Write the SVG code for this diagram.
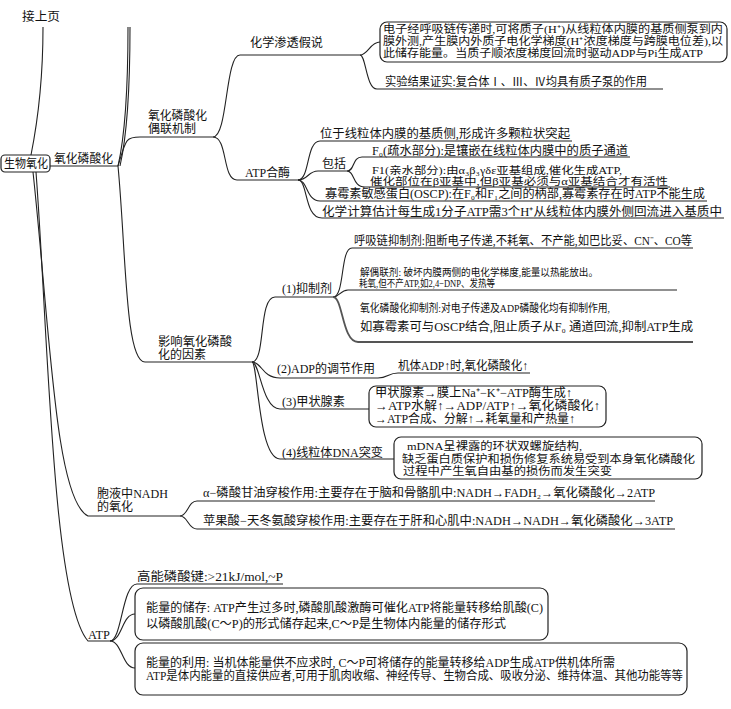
<svg xmlns="http://www.w3.org/2000/svg" width="731" height="709" viewBox="0 0 731 709">
<style>
.t{font-family:"Liberation Serif","Noto Sans CJK SC",serif;font-size:12px;fill:#111}
.s{font-size:10.5px}
.m{font-size:11px}
.c{fill:none;stroke:#222;stroke-width:1.1}
.g{fill:none;stroke:#555;stroke-width:1.8}
.b{fill:#fff;stroke:#222;stroke-width:1.2}
</style>
<rect width="731" height="709" fill="#fff"/>
<g id="connectors">
<path class="c" d="M43,27 C43,80 38,120 31,155"/>
<path class="c" d="M128,27 C128,90 124,140 118,166"/>
<path class="c" d="M130,27 C130,90 126,140 120,166"/>
<path class="c" d="M50,166 L118,166"/>
<path class="c" d="M33,172 C50,330 55,500 88,516 L180,516"/>
<path class="c" d="M36,172 C48,330 52,600 88,641 L110,641"/>
<path class="c" d="M118,166 C126,140 125,137 140,137 L213,137"/>
<path class="c" d="M118,166 C126,250 125,362 145,362 L252,362"/>
<path class="c" d="M213,137 C228,137 225,55 240,55 L360,55"/>
<path class="c" d="M213,137 C228,137 222,180 237,180 L298,180"/>
<path class="c" d="M360,55 C368,55 370,42 380,42"/>
<path class="c" d="M360,55 C366,55 366,89 377,89 L663,89"/>
<path class="c" d="M298,180 C310,180 306,141 320,141 L572,141"/>
<path class="c" d="M298,180 C308,180 308,171 318,171 L347,171"/>
<path class="c" d="M298,180 C308,180 306,201 320,201 L707,201"/>
<path class="c" d="M298,180 C308,180 304,218 322,218 L724,218"/>
<path class="c" d="M347,171 C355,171 352,157 362,157 L630,157"/>
<path class="c" d="M347,171 C355,171 352,187 365,187 L670,187"/>
<path class="c" d="M252,362 C266,362 258,297 275,297 L333,297"/>
<path class="c" d="M252,362 C262,362 262,378 280,378 L378,378 C388,378 388,373 398,373 L530,373"/>
<path class="c" d="M252,362 C260,362 262,409 280,409 L369,409"/>
<path class="c" d="M252,362 C258,362 258,459 280,459 L394,459"/>
<path class="c" d="M333,297 C345,297 340,248 352,248 L693,248"/>
<path class="c" d="M333,297 C340,297 340,290 348,290 L677,290"/>
<path class="g" d="M333,297 C343,297 342,342 358,342 L693,342"/>
<path class="c" d="M180,516 C188,516 188,501 197,501 L655,501"/>
<path class="c" d="M180,516 C188,516 188,529 197,529 L675,529"/>
<path class="c" d="M110,641 C122,641 122,584 137,584 L283,584"/>
<path class="c" d="M110,641 C122,641 122,614 135,614"/>
<path class="c" d="M110,641 C122,641 122,668 135,668"/>
</g>
<g id="prev"><text class="t" x="22" y="21" font-size="13" textLength="38" lengthAdjust="spacingAndGlyphs">接上页</text></g>
<g id="root"><rect class="b" x="1" y="155" width="49" height="17" rx="4"/><text class="t" x="4" y="168" textLength="44" lengthAdjust="spacingAndGlyphs">生物氧化</text></g>
<g id="n-oxphos"><text class="t" x="54" y="163" textLength="59" lengthAdjust="spacingAndGlyphs">氧化磷酸化</text></g>
<g id="n-coupling"><text class="t" x="148" y="120" textLength="59" lengthAdjust="spacingAndGlyphs">氧化磷酸化</text><text class="t" x="148" y="133" textLength="48" lengthAdjust="spacingAndGlyphs">偶联机制</text></g>
<g id="n-chemi"><text class="t" x="250" y="47" textLength="73" lengthAdjust="spacingAndGlyphs">化学渗透假说</text></g>
<g id="n-chemi-box"><rect class="b" x="380" y="22" width="347" height="40" rx="7"/>
<text class="t m" x="383" y="33" textLength="340" lengthAdjust="spacingAndGlyphs">电子经呼吸链传递时,可将质子(H⁺)从线粒体内膜的基质侧泵到内</text>
<text class="t m" x="383" y="45" textLength="340" lengthAdjust="spacingAndGlyphs">膜外测,产生膜内外质子电化学梯度(H⁺浓度梯度与跨膜电位差),以</text>
<text class="t m" x="383" y="57" textLength="320" lengthAdjust="spacingAndGlyphs">此储存能量。当质子顺浓度梯度回流时驱动ADP与Pi生成ATP</text></g>
<g id="n-exp"><text class="t" x="385" y="86" textLength="262" lengthAdjust="spacingAndGlyphs">实验结果证实:复合体Ⅰ、Ⅲ、Ⅳ均具有质子泵的作用</text></g>
<g id="n-atpase"><text class="t" x="245" y="177" textLength="45" lengthAdjust="spacingAndGlyphs">ATP合酶</text></g>
<g id="n-loc"><text class="t" x="320" y="138" textLength="250" lengthAdjust="spacingAndGlyphs">位于线粒体内膜的基质侧,形成许多颗粒状突起</text></g>
<g id="n-incl"><text class="t" x="322" y="168" textLength="24" lengthAdjust="spacingAndGlyphs">包括</text></g>
<g id="n-f0"><text class="t" x="372" y="155" textLength="256" lengthAdjust="spacingAndGlyphs">F₀(疏水部分):是镶嵌在线粒体内膜中的质子通道</text></g>
<g id="n-f1"><text class="t s" x="372" y="173.5" textLength="250" lengthAdjust="spacingAndGlyphs">F1(亲水部分):由α₃β₃γδε亚基组成,催化生成ATP,</text>
<text class="t s" x="370" y="185" textLength="298" lengthAdjust="spacingAndGlyphs">催化部位在β亚基中,但β亚基必须与α亚基结合才有活性</text></g>
<g id="n-oscp"><text class="t" x="325" y="198" textLength="380" lengthAdjust="spacingAndGlyphs">寡霉素敏感蛋白(OSCP):在F₀和F₁之间的柄部,寡霉素存在时ATP不能生成</text></g>
<g id="n-calc"><text class="t" x="322" y="216" textLength="400" lengthAdjust="spacingAndGlyphs">化学计算估计每生成1分子ATP需3个H⁺从线粒体内膜外侧回流进入基质中</text></g>
<g id="n-factors"><text class="t" x="158" y="346" textLength="74" lengthAdjust="spacingAndGlyphs">影响氧化磷酸</text><text class="t" x="158" y="359" textLength="48" lengthAdjust="spacingAndGlyphs">化的因素</text></g>
<g id="n-inhib"><text class="t" x="282" y="293" textLength="50" lengthAdjust="spacingAndGlyphs">(1)抑制剂</text></g>
<g id="n-resp"><text class="t" x="354" y="245" textLength="338" lengthAdjust="spacingAndGlyphs">呼吸链抑制剂:阻断电子传递,不耗氧、不产能,如巴比妥、CN⁻、CO等</text></g>
<g id="n-uncoup"><text class="t s" x="360" y="275.5" textLength="238" lengthAdjust="spacingAndGlyphs">解偶联剂: 破坏内膜两侧的电化学梯度,能量以热能放出。</text>
<text class="t s" x="359" y="287" textLength="136" lengthAdjust="spacingAndGlyphs">耗氧,但不产ATP,如2,4−DNP、发热等</text></g>
<g id="n-oxinh"><text class="t m" x="360" y="312" textLength="250" lengthAdjust="spacingAndGlyphs">氧化磷酸化抑制剂:对电子传递及ADP磷酸化均有抑制作用,</text>
<text class="t" x="360" y="331" textLength="333" lengthAdjust="spacingAndGlyphs">如寡霉素可与OSCP结合,阻止质子从F₀ 通道回流,抑制ATP生成</text></g>
<g id="n-adp"><text class="t" x="277" y="373" textLength="98" lengthAdjust="spacingAndGlyphs">(2)ADP的调节作用</text></g>
<g id="n-adp2"><text class="t" x="398" y="370" textLength="130" lengthAdjust="spacingAndGlyphs">机体ADP↑时,氧化磷酸化↑</text></g>
<g id="n-thyro"><text class="t" x="282" y="406" textLength="63" lengthAdjust="spacingAndGlyphs">(3)甲状腺素</text></g>
<g id="n-thyro-box"><rect class="b" x="369" y="386" width="237" height="41" rx="7"/>
<text class="t" x="375" y="397" textLength="197" lengthAdjust="spacingAndGlyphs">甲状腺素→膜上Na⁺−K⁺−ATP酶生成↑</text>
<text class="t" x="375" y="410" textLength="225" lengthAdjust="spacingAndGlyphs">→ATP水解↑→ADP/ATP↑→氧化磷酸化↑</text>
<text class="t" x="375" y="423" textLength="200" lengthAdjust="spacingAndGlyphs">→ATP合成、分解↑→耗氧量和产热量↑</text></g>
<g id="n-mdna"><text class="t" x="282" y="457" textLength="101" lengthAdjust="spacingAndGlyphs">(4)线粒体DNA突变</text></g>
<g id="n-mdna-box"><rect class="b" x="394" y="437" width="308" height="42" rx="7"/>
<text class="t m" x="407" y="450" textLength="175" lengthAdjust="spacingAndGlyphs">mDNA呈裸露的环状双螺旋结构,</text>
<text class="t m" x="402" y="463" textLength="293" lengthAdjust="spacingAndGlyphs">缺乏蛋白质保护和损伤修复系统易受到本身氧化磷酸化</text>
<text class="t m" x="403" y="475" textLength="209" lengthAdjust="spacingAndGlyphs">过程中产生氧自由基的损伤而发生突变</text></g>
<g id="n-nadh"><text class="t" x="97" y="498" textLength="71" lengthAdjust="spacingAndGlyphs">胞液中NADH</text><text class="t" x="97" y="511" textLength="36" lengthAdjust="spacingAndGlyphs">的氧化</text></g>
<g id="n-gly"><text class="t" x="203" y="497" textLength="452" lengthAdjust="spacingAndGlyphs">α−磷酸甘油穿梭作用:主要存在于脑和骨骼肌中:NADH→FADH₂→氧化磷酸化→2ATP</text></g>
<g id="n-mal"><text class="t" x="203" y="525" textLength="470" lengthAdjust="spacingAndGlyphs">苹果酸−天冬氨酸穿梭作用:主要存在于肝和心肌中:NADH→NADH→氧化磷酸化→3ATP</text></g>
<g id="n-atp"><text class="t" x="88" y="639" textLength="22" lengthAdjust="spacingAndGlyphs">ATP</text></g>
<g id="n-hep"><text class="t" x="137" y="581" textLength="146" lengthAdjust="spacingAndGlyphs">高能磷酸键:&gt;21kJ/mol,~P</text></g>
<g id="n-store"><rect class="b" x="135" y="588" width="413" height="52" rx="8"/>
<text class="t" x="146" y="612" textLength="397" lengthAdjust="spacingAndGlyphs">能量的储存: ATP产生过多时,磷酸肌酸激酶可催化ATP将能量转移给肌酸(C)</text>
<text class="t" x="146" y="628" textLength="360" lengthAdjust="spacingAndGlyphs">以磷酸肌酸(C～P)的形式储存起来,C～P是生物体内能量的储存形式</text></g>
<g id="n-use"><rect class="b" x="135" y="643" width="552" height="52" rx="8"/>
<text class="t" x="146" y="667" textLength="469" lengthAdjust="spacingAndGlyphs">能量的利用: 当机体能量供不应求时, C～P可将储存的能量转移给ADP生成ATP供机体所需</text>
<text class="t" x="146" y="680" textLength="537" lengthAdjust="spacingAndGlyphs">ATP是体内能量的直接供应者,可用于肌肉收缩、神经传导、生物合成、吸收分泌、维持体温、其他功能等等</text></g>
</svg>
